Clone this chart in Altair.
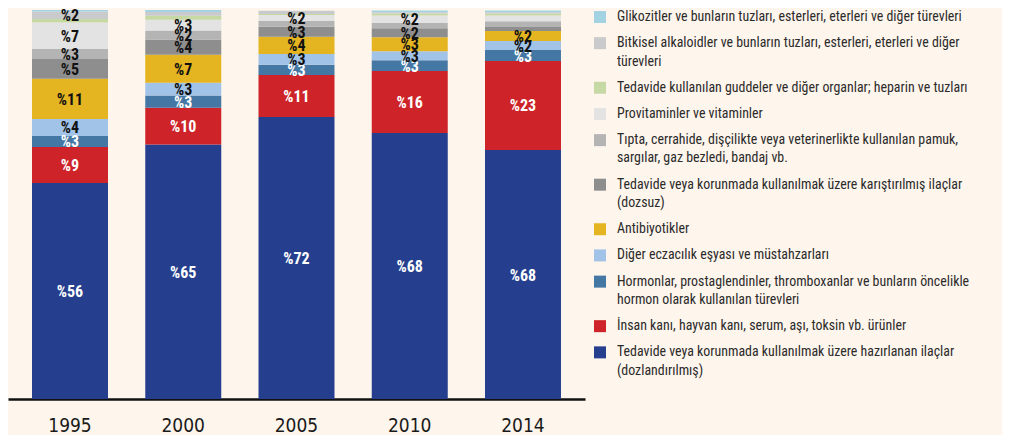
import altair as alt
import pandas as pd

years = ["1995", "2000", "2005", "2010", "2014"]

# legend order (top to bottom); "\n" marks the legend line break
categories = [
    "Glikozitler ve bunların tuzları, esterleri, eterleri ve diğer türevleri",
    "Bitkisel alkaloidler ve bunların tuzları, esterleri, eterleri ve diğer\ntürevleri",
    "Tedavide kullanılan guddeler ve diğer organlar; heparin ve tuzları",
    "Provitaminler ve vitaminler",
    "Tıpta, cerrahide, dişçilikte veya veterinerlikte kullanılan pamuk,\nsargılar, gaz bezledi, bandaj vb.",
    "Tedavide veya korunmada kullanılmak üzere karıştırılmış ilaçlar\n(dozsuz)",
    "Antibiyotikler",
    "Diğer eczacılık eşyası ve müstahzarları",
    "Hormonlar, prostaglendinler, thromboxanlar ve bunların öncelikle\nhormon olarak kullanılan türevleri",
    "İnsan kanı, hayvan kanı, serum, aşı, toksin vb. ürünler",
    "Tedavide veya korunmada kullanılmak üzere hazırlanan ilaçlar\n(dozlandırılmış)",
]

colors = ["#a3d3e3", "#c9cacc", "#c6d8a4", "#e3e3e3", "#b4b4b4", "#8e8e8e",
          "#e5b521", "#a1c3e7", "#4577a5", "#cd2329", "#253f8e"]

# shares (%) per year, same order as categories
v_glikozit    = [0.4, 0.5, 0.0, 0.5, 0.5]
v_bitkisel    = [1.9, 1.0, 0.8, 0.3, 0.3]
v_guddeler    = [0.9, 1.0, 0.3, 0.5, 0.5]
v_provitamin  = [6.8, 2.8, 1.5, 1.9, 1.5]
v_tipta       = [2.6, 2.3, 1.5, 1.4, 1.5]
v_dozsuz      = [5.1, 3.9, 2.6, 2.3, 1.0]
v_antibiyotik = [10.3, 7.2, 4.4, 3.6, 2.6]
v_diger       = [4.4, 3.3, 2.8, 2.3, 2.3]
v_hormon      = [2.8, 3.1, 2.6, 2.8, 2.8]
v_insan       = [9.3, 9.5, 10.8, 15.9, 22.9]
v_dozlu       = [55.5, 65.4, 72.5, 68.4, 64.0]

# printed labels
l_glikozit    = ["", "", "", "", ""]
l_bitkisel    = ["%2", "", "", "", ""]
l_guddeler    = ["", "", "", "", ""]
l_provitamin  = ["%7", "%3", "%2", "%2", ""]
l_tipta       = ["%3", "%2", "", "", ""]
l_dozsuz      = ["%5", "%4", "%3", "%2", ""]
l_antibiyotik = ["%11", "%7", "%4", "%3", "%2"]
l_diger       = ["%4", "%3", "%3", "%3", "%2"]
l_hormon      = ["%3", "%3", "%3", "%3", "%3"]
l_insan       = ["%9", "%10", "%11", "%16", "%23"]
l_dozlu       = ["%56", "%65", "%72", "%68", "%68"]

values = [v_glikozit, v_bitkisel, v_guddeler, v_provitamin, v_tipta, v_dozsuz,
          v_antibiyotik, v_diger, v_hormon, v_insan, v_dozlu]
labels = [l_glikozit, l_bitkisel, l_guddeler, l_provitamin, l_tipta, l_dozsuz,
          l_antibiyotik, l_diger, l_hormon, l_insan, l_dozlu]

FONT = "Liberation Sans Narrow, Roboto Condensed, DejaVu Sans Condensed, Roboto, sans-serif"

rows = []
n = len(categories)
for yi, yr in enumerate(years):
    base = 0.0
    for k in range(n - 1, -1, -1):  # bottom segment first
        v = values[k][yi]
        rows.append({"year": yr, "cat": categories[k], "order": n - 1 - k,
                     "value": v, "label": labels[k][yi], "mid": base + v / 2})
        base += v
df = pd.DataFrame(rows)

color_scale = alt.Scale(domain=categories, range=colors)
white_cats = [categories[8], categories[9], categories[10]]

xenc = alt.X("year:N", sort=years,
             scale=alt.Scale(paddingInner=0.329, paddingOuter=0.212),
             axis=alt.Axis(title=None, labelAngle=0, ticks=False, tickSize=0,
                           domainColor="#111111", domainWidth=2.5,
                           labelFontSize=19, labelFontWeight="normal",
                           labelPadding=17, labelColor="#1a1a1a",
                           labelFont="Liberation Sans Narrow, DejaVu Sans Condensed, sans-serif",
                           grid=False))
yscale = alt.Scale(domain=[0, 100], nice=False)

bars = alt.Chart(df).mark_bar().encode(
    x=xenc,
    y=alt.Y("value:Q", stack="zero", scale=yscale, axis=None),
    color=alt.Color("cat:N", scale=color_scale, legend=None),
    order=alt.Order("order:Q", sort="ascending"),
)

texts = alt.Chart(df).transform_filter("datum.label != ''").mark_text(
    font=FONT, fontWeight="bold", fontSize=16, baseline="middle", dy=1
).encode(
    x=alt.X("year:N", sort=years),
    y=alt.Y("mid:Q", scale=yscale),
    text="label:N",
    color=alt.condition(alt.FieldOneOfPredicate(field="cat", oneOf=white_cats),
                        alt.value("#ffffff"), alt.value("#111111")),
)

main = alt.layer(bars, texts).properties(width=577, height=389)

# legend
leg_rows = []
extra = 0.0
for i, cat in enumerate(categories):
    lines = cat.split("\n")
    for j, line in enumerate(lines):
        leg_rows.append({"cat": cat, "text": line, "first": j == 0,
                         "pos": i + extra + 0.7 * j})
    extra += 0.7 * (len(lines) - 1)
leg = pd.DataFrame(leg_rows)

lscale = alt.Scale(domain=[-0.267, 14.58], reverse=True, nice=False, zero=False)

squares = alt.Chart(leg).transform_filter("datum.first").mark_square(
    size=144, opacity=1
).encode(
    x=alt.value(15),
    y=alt.Y("pos:Q", scale=lscale, axis=None),
    color=alt.Color("cat:N", scale=color_scale, legend=None),
)
ltext = alt.Chart(leg).mark_text(
    align="left", baseline="middle", font=FONT, fontSize=13.9, color="#2b2b2b"
).encode(
    x=alt.value(32),
    y=alt.Y("pos:Q", scale=lscale, axis=None),
    text="text:N",
)
legend = alt.layer(squares, ltext).properties(width=417, height=389)

chart = alt.hconcat(main, legend, spacing=0).resolve_scale(y="independent").properties(
    padding=0, background="#fef5ec"
).configure_view(stroke=None)

chart.save("out.html", embed_options={"renderer": "svg", "actions": False})
